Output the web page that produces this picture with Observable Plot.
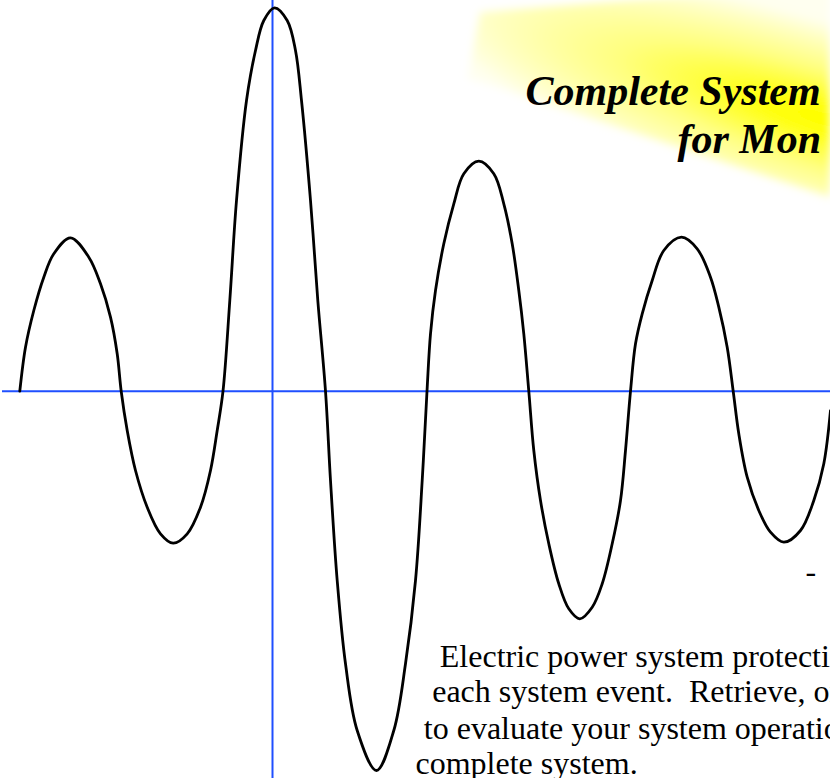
<!DOCTYPE html>
<html>
<head>
<meta charset="utf-8">
<script src="https://cdn.jsdelivr.net/npm/d3@7"></script>
<script src="https://cdn.jsdelivr.net/npm/@observablehq/plot@0.6"></script>
<style>
  html, body { margin: 0; padding: 0; background: #fff; overflow: hidden; }
  #chart svg { display: block; }
</style>
</head>
<body>
<div id="chart"></div>
<script>
// Waveform samples (time in samples, amplitude in arbitrary units)
const time = [
  -252.7, -247, -238.7, -228.7, -218.7, -202, -183.7, -172, -162, -155.3, -151.3, -145.3, -137, -125.3, -112, -99.3, -85.3, -72, -62, -55.3, -49.5,
  -42.7, -36, -26, -17, -8.7, 2, 14.7, 23, 29, 38, 45.3, 53,
  58, 64.7, 73, 84.7, 104, 121.3, 133, 143, 149.7, 154.5,
  158, 163, 171.3, 181.3, 191.3, 206.3, 221.3, 231.3, 239.7, 246.3, 251.3, 256.3,
  261.3, 268, 276.3, 286.3, 296.3, 307.3, 319.7, 329.7, 339.7, 348, 353, 358,
  363, 369.7, 379.7, 391.3, 409, 424.7, 438, 446.3, 454.7, 460.7,
  466.3, 474.7, 486.3, 498, 511.3, 528, 541.3, 551.3, 558
];
const amplitude = [
  0, 44, 80.7, 114, 137.4, 153.4, 134, 107.4, 74, 37.4, 0, -39.3, -79.3, -116, -142.6, -152, -142.6, -116, -79.3, -39.3, 0,
  90.7, 190.7, 290.7, 340.7, 370.7, 383.4, 370.7, 340.7, 290.7, 190.7, 90.7, 0,
  -89.3, -189.3, -272.6, -339.3, -379.3, -339.3, -272.6, -189.3, -89.3, 0,
  57.4, 100.7, 147.4, 187.4, 217.4, 230, 217.4, 187.4, 147.4, 100.7, 57.4, 0,
  -59.3, -109.3, -152.6, -192.6, -217.6, -227.6, -216, -192.6, -152.6, -109.3, -59.3, 0,
  47.4, 77.4, 110.7, 140.7, 154, 142.4, 114, 84, 44, 0,
  -42.6, -86, -119.3, -141, -151, -139.3, -109.3, -72.6, -19.3
];

// Texts (as far as they are visible in the picture)
const titleLines = ["Complete System", "for Mon"];
const bodyLines = [
  "Electric power system protecti",
  "each system event.  Retrieve, or",
  "to evaluate your system operatio",
  "complete system."
];
const dashText = ["-"];

// Layout (annotation anchors, in chart units)
const titleAnchors = [[253, 286.7], [405, 238.7]];
const bodyAnchors = [[167.3, -276], [159.7, -311], [151.3, -347.6], [143, -382.3]];
const dashAnchor = [[533, -190.3]];
const glowShape = [[208, 378.7], [558, 405.7], [558, 193.7], [196, 312.7]];
const glowCenter = [548, 272.7];

const wave = time.map((t, i) => ({t, a: amplitude[i]}));

const serif = "'Liberation Serif', 'Times New Roman', Times, serif";
const blue = "#1f4fff";

const chart = Plot.plot({
  width: 830,
  height: 778,
  margin: 0,
  x: {domain: [-272, 558], axis: null},
  y: {domain: [-387.3, 390.7], axis: null},
  style: {background: "white", overflow: "hidden"},
  marks: [
    Plot.ruleY([0], {x1: -270, x2: 558, stroke: blue, strokeWidth: 2}),
    Plot.ruleX([0], {stroke: blue, strokeWidth: 2}),
    Plot.line(wave, {x: "t", y: "a", curve: "catmull-rom", stroke: "black", strokeWidth: 2.8}),
    Plot.text(titleLines, {
      x: (d, i) => titleAnchors[i][0], y: (d, i) => titleAnchors[i][1], text: d => d,
      textAnchor: "start", lineAnchor: "bottom",
      fontFamily: serif, fontSize: 42, fontWeight: "bold", fontStyle: "italic", fill: "black"
    }),
    Plot.text(bodyLines, {
      x: (d, i) => bodyAnchors[i][0], y: (d, i) => bodyAnchors[i][1], text: d => d,
      textAnchor: "start", lineAnchor: "bottom",
      fontFamily: serif, fontSize: 32, fill: "black"
    }),
    Plot.text(dashText, {
      x: (d, i) => dashAnchor[i][0], y: (d, i) => dashAnchor[i][1], text: d => d,
      textAnchor: "start", lineAnchor: "bottom",
      fontFamily: serif, fontSize: 32, fill: "black"
    })
  ]
});

// Decorative yellow glow behind the title
const sx = chart.scale("x"), sy = chart.scale("y");
const pts = glowShape.map(([x, y]) => [sx.apply(x), sy.apply(y)]);
const cx = sx.apply(glowCenter[0]), cy = sy.apply(glowCenter[1]);
const g = d3.create("svg:g").attr("aria-label", "glow");
const defs = g.append("defs");
const grad = defs.append("radialGradient")
  .attr("id", "glow-grad")
  .attr("gradientUnits", "userSpaceOnUse")
  .attr("cx", 0).attr("cy", 0).attr("r", 1)
  .attr("gradientTransform", `translate(${cx},${cy}) rotate(17) scale(420,95)`);
[[0, "#ffff00"], [0.15, "#ffff10"], [0.5, "#ffff80"], [0.8, "#ffffc0"], [1, "#fffff0"]].forEach(([o, c]) =>
  grad.append("stop").attr("offset", o).attr("stop-color", c));
defs.append("filter").attr("id", "glow-blur").attr("x", "-20%").attr("y", "-20%").attr("width", "140%").attr("height", "140%")
  .append("feGaussianBlur").attr("stdDeviation", 4);
g.append("polygon")
  .attr("points", pts.map(p => p.join(",")).join(" "))
  .attr("fill", "url(#glow-grad)")
  .attr("filter", "url(#glow-blur)");
chart.insertBefore(g.node(), chart.querySelector("g"));

document.getElementById("chart").appendChild(chart);
</script>
</body>
</html>
